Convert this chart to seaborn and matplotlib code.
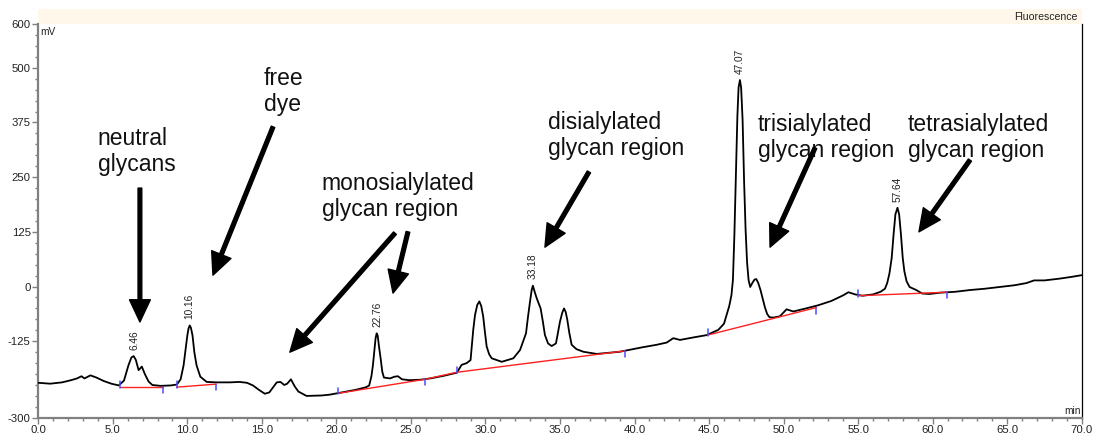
import matplotlib
matplotlib.use("Agg")
import matplotlib.pyplot as plt
import seaborn as sns
import pandas as pd
from matplotlib.patches import Rectangle

# ---------------- data ----------------
time_min = [0.0, 0.8, 1.6, 2.2, 2.6, 2.9, 3.1, 3.5, 3.9, 4.4, 4.9, 5.4, 5.75, 6.05, 6.25,
            6.40, 6.55, 6.73, 6.95, 7.15, 7.4, 7.65, 8.2, 8.9, 9.3, 9.55, 9.75, 9.9, 10.0,
            10.08, 10.16, 10.24, 10.35, 10.47, 10.62, 10.87, 11.3, 12.0, 12.86, 13.5, 14.0,
            14.4, 14.8, 15.2, 15.5, 15.8, 16.0, 16.25, 16.5, 16.7, 16.95, 17.2, 17.45, 18.0,
            19.0, 19.57, 20.5, 21.3, 22.0, 22.2, 22.35, 22.45, 22.55, 22.63, 22.70, 22.77,
            22.85, 22.97, 23.08, 23.19, 23.6, 23.9, 24.13, 24.4, 24.9, 25.61, 26.3, 27.2,
            28.08, 28.4, 28.74, 29.0, 29.18, 29.3, 29.45, 29.59, 29.72, 29.85, 29.95, 30.08,
            30.25, 30.42, 31.09, 31.87, 32.32, 32.72, 32.85, 32.99, 33.1, 33.18, 33.3, 33.44,
            33.7, 33.85, 33.99, 34.2, 34.44, 34.73, 35.0, 35.15, 35.27, 35.38, 35.49, 35.62,
            35.78, 36.1, 36.56, 37.46, 39.02, 39.47, 40.5, 41.5, 42.16, 42.6, 43.05, 44.0,
            44.84, 45.62, 46.0, 46.2, 46.35, 46.5, 46.6, 46.7, 46.8, 46.9, 46.98, 47.07,
            47.15, 47.25, 47.35, 47.45, 47.55, 47.65, 47.76, 47.9, 48.05, 48.17, 48.3, 48.45,
            48.6, 48.75, 48.9, 49.05, 49.3, 49.75, 50.2, 50.65, 51.5, 52.3, 53.2, 54.0,
            54.35, 54.8, 55.3, 56.0, 56.5, 56.8, 56.95, 57.1, 57.25, 57.38, 57.5, 57.64,
            57.75, 57.87, 57.99, 58.1, 58.25, 58.45, 58.9, 59.3, 59.8, 60.5, 61.5, 62.5,
            63.5, 64.5, 65.5, 66.3, 66.8, 67.5, 68.5, 69.3, 70.0]
signal_mv = [-220, -222, -219, -214, -210, -205, -210, -203, -208, -216, -222, -226, -215,
             -180, -162, -159, -168, -191, -183, -200, -217, -225, -227, -226, -224, -212,
             -180, -140, -112, -96, -89, -94, -112, -150, -180, -206, -218, -219, -219,
             -218, -220, -226, -236, -245, -242, -228, -219, -218, -225, -222, -212, -228,
             -240, -250, -249, -247, -241, -236, -230, -226, -205, -180, -145, -118, -107,
             -112, -135, -165, -195, -208, -210, -206, -205, -212, -214, -213, -210, -204,
             -197, -179, -175, -168, -99, -65, -42, -34, -45, -69, -100, -137, -155, -164,
             -172, -164, -145, -107, -70, -34, -8, 2, -12, -27, -50, -80, -111, -130, -136,
             -130, -80, -60, -50, -58, -76, -105, -133, -143, -149, -154, -149, -146, -139,
             -133, -128, -118, -122, -116, -111, -99, -85, -62, -45, -20, 15, 120, 260, 390,
             455, 472, 455, 380, 240, 130, 55, 15, -1, 8, 16, 17, 8, -8, -28, -48, -63,
             -70, -71, -68, -52, -57, -50, -43, -33, -20, -13, -18, -21, -18, -12, -5, 8, 30,
             65, 120, 165, 180, 165, 120, 66, 35, 12, -1, -8, -16, -17, -14, -12, -8, -5,
             -1, 3, 8, 14, 14, 18, 22, 26]

# integration baselines (red)
baseline_t = [[5.48, 8.39], [9.28, 11.92], [20.13, 25.94, 28.07, 39.36],
              [44.9, 52.2], [55.0, 60.94]]
baseline_v = [[-229, -229], [-230, -223], [-244, -212, -196, -147],
              [-111, -48], [-21, -13]]

# peak start (up) / end (down) markers (blue)
marker_t = [5.48, 8.39, 9.28, 11.92, 20.13, 25.94, 28.07, 39.36, 44.9, 52.2, 55.0, 60.94]
marker_v = [-229, -229, -230, -223, -244, -212, -196, -147, -111, -48, -21, -13]
marker_up = [True, False, True, False, True, False, True, False, True, False, True, False]

# labelled peaks
peak_rt = [6.46, 10.16, 22.76, 33.18, 47.07, 57.64]
peak_top = [-159, -89, -107, 2, 472, 180]
peak_labels = ["6.46", "10.16", "22.76", "33.18", "47.07", "57.64"]

# region annotations
region_texts = ["neutral\nglycans", "free\ndye", "monosialylated\nglycan region",
                "disialylated\nglycan region", "trisialylated\nglycan region",
                "tetrasialylated\nglycan region"]
region_text_t = [4.0, 15.14, 19.03, 34.19, 48.28, 58.35]
region_text_v = [365, 502, 262, 401, 397, 397]

arrow_start_t = [6.82, 15.75, 23.93, 24.80, 36.94, 52.11, 62.5]
arrow_start_v = [225, 365, 122, 125, 262, 317, 289]
arrow_tip_t = [6.82, 11.72, 16.88, 23.80, 33.99, 49.09, 59.08]
arrow_tip_v = [-81, 26, -150, -15, 90, 90, 125]

y_ticks = [-300, -125, 0, 125, 250, 375, 500, 600]
x_ticks = [0, 5, 10, 15, 20, 25, 30, 35, 40, 45, 50, 55, 60, 65, 70]

assert len(time_min) == len(signal_mv)

# ---------------- plotting ----------------
sns.set_style("white")
plt.rcParams["font.family"] = ["Liberation Sans", "DejaVu Sans"]

fig = plt.figure(figsize=(10.93, 4.38), dpi=100)
ax = fig.add_axes([0.035, 0.0461, 0.9547, 0.8991])

df = pd.DataFrame({"t": time_min, "mV": signal_mv})
sns.lineplot(data=df, x="t", y="mV", ax=ax, color="black", linewidth=1.3, sort=False,
             estimator=None, zorder=3)

for bt, bv in zip(baseline_t, baseline_v):
    ax.plot(bt, bv, color="#ff2020", linewidth=1.0, zorder=4)

for mt, mv, up in zip(marker_t, marker_v, marker_up):
    if up:
        ax.plot([mt, mt], [mv - 2, mv + 13], color="#4a4aff", linewidth=1.1, zorder=5)
    else:
        ax.plot([mt, mt], [mv, mv - 14], color="#4a4aff", linewidth=1.1, zorder=5)

for rt, top, lab in zip(peak_rt, peak_top, peak_labels):
    ax.annotate(lab, xy=(rt, top), xytext=(0, 4.5), textcoords="offset points",
                rotation=90, ha="center", va="bottom", fontsize=7.3, color="#222222")

for txt, tx, ty in zip(region_texts, region_text_t, region_text_v):
    ax.text(tx, ty, txt, ha="left", va="top", fontsize=16.5, color="#111111",
            linespacing=1.15)

for st, sv, et, ev in zip(arrow_start_t, arrow_start_v, arrow_tip_t, arrow_tip_v):
    ax.annotate("", xy=(et, ev), xytext=(st, sv),
                arrowprops=dict(arrowstyle="simple,head_length=1.6,head_width=1.5,tail_width=0.27",
                                mutation_scale=10, color="black", shrinkA=0, shrinkB=0))

ax.set_xlim(0, 70)
ax.set_ylim(-300, 600)
ax.set_xticks(x_ticks)
ax.set_xticklabels([f"{v:.1f}" for v in x_ticks])
ax.set_xticks([i for i in range(0, 71)], minor=True)
ax.set_yticks(y_ticks)
ax.set_yticklabels([str(v) for v in y_ticks])
ax.set_yticks(list(range(-300, 601, 25)), minor=True)
ax.set_xlabel("")
ax.set_ylabel("")

ax.tick_params(axis="both", which="major", direction="out", length=4.5, width=1.0,
               color="#808080", labelsize=8.2, labelcolor="#222222", pad=1)
ax.tick_params(axis="both", which="minor", direction="out", length=2.3, width=1.0,
               color="#808080")
ax.tick_params(left=True, bottom=True, which="both")

for side in ["left", "bottom"]:
    ax.spines[side].set_color("#808080")
    ax.spines[side].set_linewidth(1.6)
ax.spines["right"].set_color("black")
ax.spines["right"].set_linewidth(0.9)
ax.spines["top"].set_visible(False)

# header band
ax.add_patch(Rectangle((0, 1.0), 1.0, 15 / 394, transform=ax.transAxes, clip_on=False,
                       facecolor="#fff8ea", edgecolor="none", zorder=1))
ax.text(0.9955, 1.0 + 7.5 / 394, "Fluorescence", transform=ax.transAxes, ha="right",
        va="center", fontsize=7.6, color="#222222")
ax.text(0.002, 0.992, "mV", transform=ax.transAxes, ha="left", va="top", fontsize=7.3,
        color="#222222")
ax.text(0.999, 0.004, "min", transform=ax.transAxes, ha="right", va="bottom", fontsize=7.3,
        color="#222222")

fig.savefig("out.png", dpi=100, facecolor="white")
